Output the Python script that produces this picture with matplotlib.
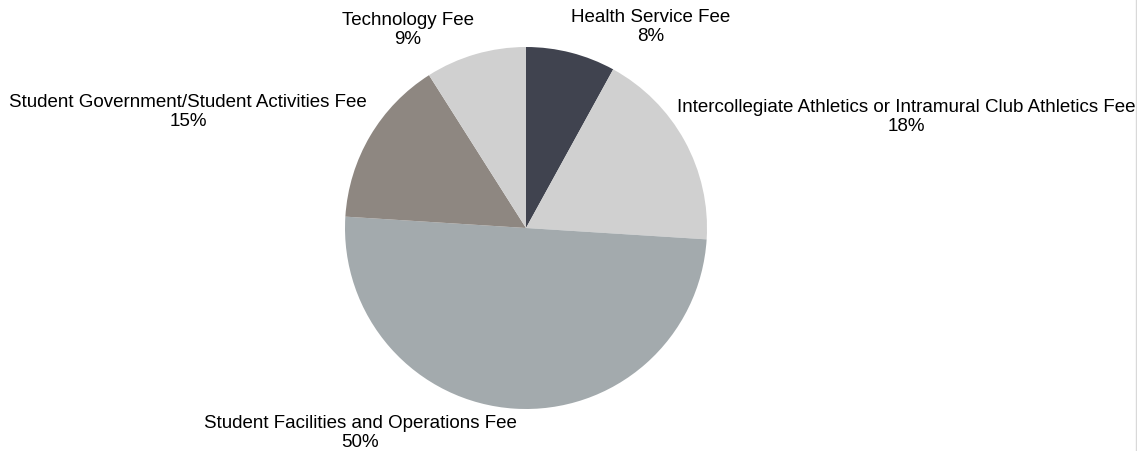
import matplotlib
matplotlib.use("Agg")
import matplotlib.pyplot as plt

categories = ["Health Service Fee",
              "Intercollegiate Athletics or Intramural Club Athletics Fee",
              "Student Facilities and Operations Fee",
              "Student Government/Student Activities Fee",
              "Technology Fee"]
shares = [8, 18, 50, 15, 9]
colors = ["#40434f", "#d0d0d0", "#a3aaad", "#8e8781", "#d0d0d0"]

# label block centres in figure pixels
label_pos = [(651, 27), (906, 117), (360, 433), (188, 112), (408, 30)]

W, H = 1137, 451
fig = plt.figure(figsize=(W / 100, H / 100), dpi=100)
ax = fig.add_axes([345 / W, 42 / H, 362 / W, 362 / H])
ax.pie(shares, colors=colors, startangle=90, counterclock=False,
       radius=1.0, wedgeprops=dict(linewidth=0))
ax.set_xlim(-1, 1)
ax.set_ylim(-1, 1)
ax.set_aspect("equal")
ax.axis("off")

for name, val, (px, py) in zip(categories, shares, label_pos):
    fig.text(px / W, 1 - py / H, f"{name}\n{val}%", ha="center", va="center",
             fontsize=13.5, family="Liberation Sans", linespacing=1.22,
             transform=fig.transFigure)

# thin border line at the right edge
fig.add_artist(plt.Line2D([1135.5 / W, 1135.5 / W], [0, 1], color="#d9d9d9",
                          linewidth=1, transform=fig.transFigure))

fig.savefig("out.png", dpi=100)
